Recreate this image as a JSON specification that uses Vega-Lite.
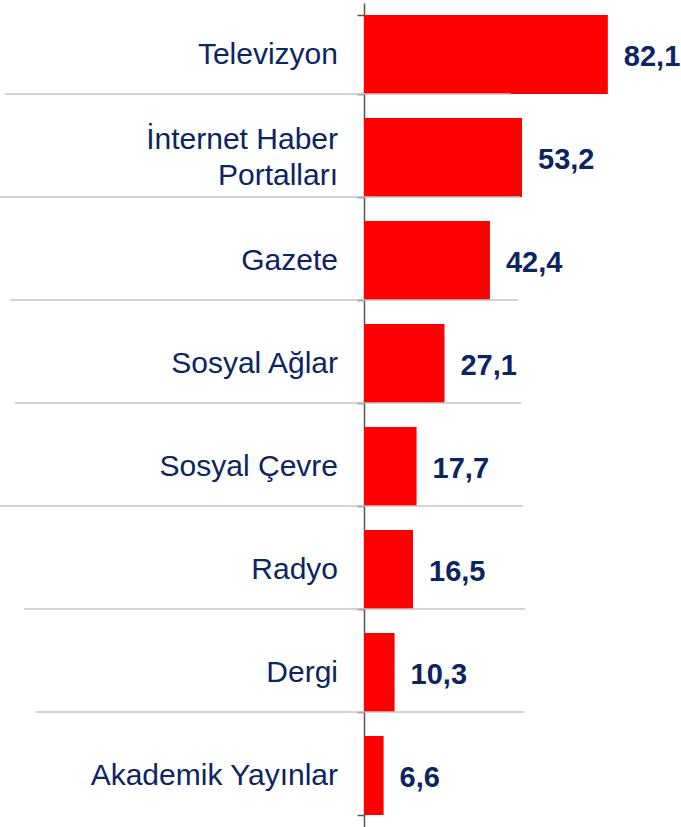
{
  "$schema": "https://vega.github.io/schema/vega-lite/v6.json",
  "width": 297,
  "height": 824,
  "autosize": {"type": "none"},
  "padding": {"left": 364, "top": 3, "right": 20, "bottom": 0},
  "background": "white",
  "config": {
    "view": {"stroke": null},
    "font": "Liberation Sans",
    "locale": {"number": {"decimal": ",", "thousands": ".", "grouping": [3], "currency": ["", "₺"]}}
  },
  "datasets": {
    "bars": [
      {"kaynak": "Televizyon", "oran": 82.1},
      {"kaynak": "İnternet Haber|Portalları", "oran": 53.2},
      {"kaynak": "Gazete", "oran": 42.4},
      {"kaynak": "Sosyal Ağlar", "oran": 27.1},
      {"kaynak": "Sosyal Çevre", "oran": 17.7},
      {"kaynak": "Radyo", "oran": 16.5},
      {"kaynak": "Dergi", "oran": 10.3},
      {"kaynak": "Akademik Yayınlar", "oran": 6.6}
    ],
    "ayraclar": [
      {"kaynak": "Televizyon", "x1": -120.9, "x2": 49.5},
      {"kaynak": "İnternet Haber|Portalları", "x1": -122.6, "x2": 52.5},
      {"kaynak": "Gazete", "x1": -119.2, "x2": 51.9},
      {"kaynak": "Sosyal Ağlar", "x1": -117.5, "x2": 52.9},
      {"kaynak": "Sosyal Çevre", "x1": -122.6, "x2": 53.5},
      {"kaynak": "Radyo", "x1": -114.5, "x2": 54.2},
      {"kaynak": "Dergi", "x1": -110.8, "x2": 54.2}
    ]
  },
  "encoding": {
    "y": {
      "field": "kaynak",
      "type": "nominal",
      "scale": {
        "domain": ["Televizyon", "İnternet Haber|Portalları", "Gazete", "Sosyal Ağlar", "Sosyal Çevre", "Radyo", "Dergi", "Akademik Yayınlar"],
        "paddingInner": 0.233,
        "paddingOuter": 0.1165
      },
      "axis": {
        "title": null,
        "tickBand": "extent",
        "tickSize": 7,
        "tickColor": "#555555",
        "tickWidth": 1.5,
        "domainColor": "#555555",
        "domainWidth": 1.5,
        "labels": false
      }
    }
  },
  "layer": [
    {
      "data": {"name": "bars"},
      "mark": {"type": "bar", "color": "#ff0000"},
      "encoding": {
        "x": {"field": "oran", "type": "quantitative", "scale": {"domain": [0, 100]}, "axis": null}
      }
    },
    {
      "data": {"name": "bars"},
      "mark": {"type": "text", "align": "left", "baseline": "middle", "dx": 16, "dy": 2, "fontSize": 29, "fontWeight": "bold", "color": "#0c2461", "font": "Liberation Sans"},
      "encoding": {
        "x": {"field": "oran", "type": "quantitative"},
        "text": {"field": "oran", "type": "quantitative", "format": ".1f"}
      }
    },
    {
      "data": {"name": "bars"},
      "transform": [{"filter": "indexof(datum.kaynak, '|') < 0"}],
      "mark": {"type": "text", "align": "right", "baseline": "middle", "dx": -26, "fontSize": 30, "color": "#0c2461", "font": "Liberation Sans"},
      "encoding": {
        "x": {"datum": 0, "type": "quantitative"},
        "text": {"field": "kaynak", "type": "nominal"}
      }
    },
    {
      "data": {"name": "bars"},
      "transform": [{"filter": "indexof(datum.kaynak, '|') >= 0"}],
      "mark": {"type": "text", "align": "right", "baseline": "middle", "dx": -26, "dy": -18, "lineBreak": "|", "lineHeight": 36, "fontSize": 30, "color": "#0c2461", "font": "Liberation Sans"},
      "encoding": {
        "x": {"datum": 0, "type": "quantitative"},
        "text": {"field": "kaynak", "type": "nominal"}
      }
    },
    {
      "data": {"name": "ayraclar"},
      "mark": {"type": "rule", "color": "#c4c4c4", "strokeWidth": 1.5},
      "encoding": {
        "y": {"field": "kaynak", "type": "nominal", "bandPosition": 1},
        "x": {"field": "x1", "type": "quantitative"},
        "x2": {"field": "x2"}
      }
    }
  ]
}
